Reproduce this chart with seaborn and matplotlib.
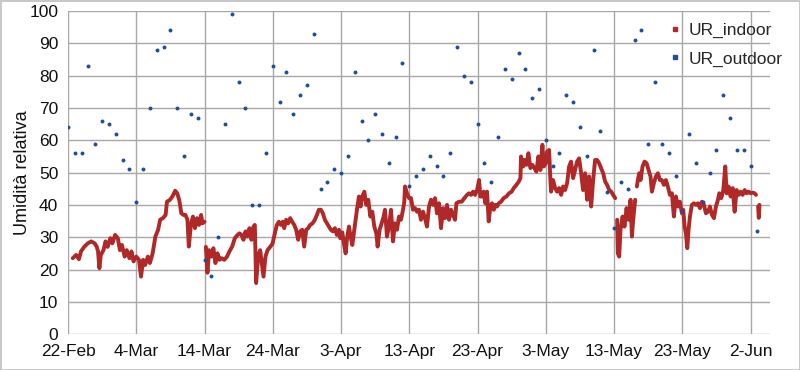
import numpy as np
import pandas as pd
import matplotlib
matplotlib.use('Agg')
import matplotlib.pyplot as plt
import matplotlib.dates as mdates
from matplotlib.lines import Line2D
import seaborn as sns

# outdoor relative humidity, one reading per day from 22-Feb
outdoor_ur = [64, 56, 56, 83, 59, 66, 65, 62, 54, 51, 41, 51, 70, 88, 89, 94,
              70, 55, 68, 67, 23, 18, 30, 65, 99, 78, 70, 40, 40, 56, 83, 72,
              81, 68, 74, 77, 93, 45, 47, 51, 50, 55, 81, 66, 60, 68, 62, 53,
              61, 84, 46, 49, 51, 55, 52, 49, 56, 89, 80, 78, 65, 53, 47, 61,
              82, 79, 87, 82, 73, 76, 60, 52, 56, 74, 72, 64, 55, 88, 63, 44,
              33, 47, 45, 91, 94, 59, 78, 59, 56, 49, 38, 62, 53, 41, 50, 57,
              74, 67, 57, 57, 52, 32]

# indoor trace: days since 22-Feb and relative humidity
indoor_day = [0.7, 1.2, 1.6, 1.9, 2.4, 2.9, 3.4, 3.9, 4.2, 4.4, 4.6, 4.8, 5.2, 5.5,
              5.8, 6.2, 6.5, 6.9, 7.3, 7.6, 7.9, 8.3, 8.6, 9.0, 9.3, 9.6, 10.0,
              10.4, 10.7, 11.0, 11.3, 11.7, 12.0, 12.4, 12.8, 13.2, 13.5, 13.9,
              14.3, 14.5, 14.9, 15.3, 15.7, 16.0, 16.3, 16.6, 16.9, 17.2, 17.5,
              17.7, 18.0, 18.3, 18.6, 18.9, 19.2, 19.5, 19.7, 20.0,
              20.2, 20.43, 20.67, 21.0, 21.3, 21.6, 21.9, 22.2, 22.5, 22.9, 23.3,
              23.65, 24.05, 24.44, 24.83, 25.12, 25.41, 25.71, 26.0, 26.29, 26.59,
              26.88, 27.17, 27.37, 27.56, 27.86, 28.15, 28.64, 28.93, 29.23,
              29.62, 29.96, 30.3, 30.6, 30.89, 31.18, 31.47, 31.67, 31.96, 32.26,
              32.55, 32.84, 33.14, 33.43, 33.72, 34.02, 34.31, 34.6, 34.9, 35.19,
              35.48, 35.82, 36.17, 36.46, 36.75, 37.05, 37.34, 37.63, 37.93,
              38.22, 38.51, 38.81, 39.1, 39.39, 39.69, 39.88, 40.18, 40.42, 40.67,
              40.91, 41.16, 41.4, 41.65, 41.94, 42.13, 42.33, 42.62, 42.87, 43.11,
              43.41, 43.7, 43.99, 44.29, 44.58, 44.87, 45.17, 45.36, 45.65, 45.95,
              46.24, 46.44, 46.73, 47.02, 47.32, 47.61, 47.9, 48.2, 48.49, 48.78,
              49.08, 49.27, 49.37, 49.66, 49.96, 50.25, 50.54, 50.84, 51.13,
              51.42, 51.71, 52.01, 52.3, 52.59, 52.89, 53.18, 53.47, 53.77, 54.06,
              54.35, 54.65, 54.94, 55.23, 55.53, 55.82, 56.11, 56.41, 56.7, 56.9,
              57.29, 57.68, 58.07, 58.46, 58.75, 59.05, 59.34, 59.63, 59.93,
              60.22, 60.41, 60.65, 60.9, 61.14, 61.39, 61.63, 61.88, 62.12, 62.37,
              62.61, 62.85, 63.1, 63.44, 63.83, 64.22, 64.61, 65.0, 65.3, 65.69,
              66.03, 66.28, 66.37, 66.67, 66.86, 67.15, 67.45, 67.74, 68.03,
              68.33, 68.62, 68.91, 69.21, 69.5, 69.7, 69.99, 70.19, 70.48, 70.67,
              70.77, 71.06, 71.36, 71.65, 71.94, 72.24, 72.53, 72.82, 73.12,
              73.41, 73.7, 74.0, 74.29, 74.58, 74.88, 75.17, 75.46, 75.76, 76.05,
              76.34, 76.64, 76.93, 77.22, 77.52, 77.81, 78.1, 78.4, 78.69, 78.98,
              79.28, 79.57, 79.86, 80.16,
              80.45, 80.55, 80.75, 80.94, 81.24, 81.53, 81.82, 82.12, 82.41, 82.61,
              82.8, 83.09,
              83.34, 83.48, 83.68, 83.88, 84.17, 84.46, 84.76, 85.05, 85.34, 85.54,
              85.83, 86.12, 86.42, 86.71, 87.0, 87.3, 87.59, 87.88, 88.18, 88.47,
              88.76, 89.06, 89.35, 89.64, 89.94, 90.13, 90.33, 90.52, 90.72,
              90.91, 91.11, 91.4, 91.7, 91.99, 92.28, 92.58, 92.87, 93.16, 93.46,
              93.75, 94.04, 94.34, 94.63, 94.92, 95.22, 95.41, 95.7, 96.0, 96.29,
              96.49, 96.78, 97.07, 97.37, 97.66, 97.95, 98.25, 98.54, 98.83,
              99.13, 99.42, 99.71, 100.0, 100.3, 100.59, 100.79,
              101.1, 101.2, 101.3]
indoor_ur = [23.5, 24.5, 23.2, 25.6, 27.1, 28.1, 28.7, 28.1, 27.1, 25.6, 20.4, 24.5,
             26.0, 28.7, 27.0, 29.7, 28.1, 30.7, 29.7, 26.0, 27.6, 24.0, 26.0,
             23.5, 25.6, 22.5, 24.0, 23.0, 17.8, 23.0, 21.4, 24.0, 22.0, 25.0,
             30.2, 32.3, 35.4, 35.9, 36.9, 41.0, 41.5, 42.6, 44.4, 43.6, 41.5,
             37.4, 36.9, 36.9, 35.4, 27.1, 33.8, 36.4, 32.8, 35.9, 33.8, 36.9,
             34.3, 34.8,
             27.0, 19.0, 26.0, 24.0, 26.6, 22.0, 25.0, 23.0, 23.5, 23.0, 24.0,
             25.6, 27.1, 29.7, 30.7, 31.2, 30.7, 29.2, 31.8, 30.2, 32.8, 29.2,
             33.3, 33.8, 15.8, 24.0, 26.0, 17.8, 24.0, 26.0, 27.0, 28.0, 31.2,
             33.8, 34.8, 33.8, 34.8, 32.8, 35.4, 34.3, 35.9, 34.8, 33.8, 32.3,
             29.2, 31.8, 32.3, 27.1, 32.3, 32.8, 33.8, 34.3, 35.4, 36.9, 38.5,
             38.5, 37.4, 35.4, 34.3, 33.3, 32.3, 31.8, 32.8, 30.7, 32.3, 29.7,
             31.5, 28.1, 25.0, 30.2, 33.3, 30.2, 27.6, 32.3, 35.4, 38.5, 42.6,
             39.5, 42.6, 44.1, 40.0, 41.6, 36.4, 37.9, 33.3, 31.2, 27.1, 32.3,
             34.3, 36.4, 38.5, 30.2, 33.3, 38.5, 28.7, 34.3, 32.3, 36.4, 35.4,
             38.5, 41.0, 45.7, 43.6, 42.1, 42.1, 38.5, 39.0, 37.9, 38.5, 35.4,
             37.9, 35.9, 33.3, 39.5, 41.6, 40.0, 42.1, 37.4, 40.5, 32.8, 39.0,
             35.9, 40.0, 35.4, 38.5, 36.9, 35.4, 40.5, 41.0, 41.0, 42.1, 43.1,
             43.6, 43.1, 44.1, 43.1, 44.6, 47.7, 42.6, 42.6, 44.1, 40.5, 44.1,
             34.9, 39.5, 40.5, 38.5, 40.0, 39.5, 40.5, 41.0, 42.1, 42.6, 43.6,
             44.1, 45.2, 46.2, 47.2, 48.3, 55.0, 51.9, 53.9, 52.4, 56.0, 51.4,
             52.4, 51.4, 50.3, 55.0, 50.8, 58.6, 51.9, 52.9, 56.5, 57.0, 47.7,
             44.1, 47.7, 45.2, 44.1, 45.2, 43.1, 45.7, 44.6, 46.7, 51.9, 53.4,
             48.3, 50.8, 53.4, 54.4, 49.8, 44.6, 49.8, 41.6, 48.8, 39.5, 47.7,
             53.9, 53.9, 52.9, 51.4, 49.8, 47.2, 46.2, 44.6, 44.1, 43.1, 42.1,
             35.4, 25.0, 24.0, 32.3, 36.4, 33.3, 39.0, 35.4, 41.6, 30.2, 35.4,
             41.6,
             45.7, 47.7, 49.8, 47.7, 51.9, 53.4, 52.9, 50.8, 48.8, 44.1, 46.7,
             48.8, 49.8, 47.7, 47.7, 46.2, 47.7, 45.7, 43.1, 43.6, 36.4, 42.6,
             39.5, 41.0, 37.4, 38.5, 33.3, 31.2, 26.6, 32.3, 36.4, 40.0, 40.5,
             40.0, 40.5, 39.0, 41.0, 40.0, 37.4, 37.9, 39.5, 36.9, 35.9, 39.5,
             41.6, 43.6, 42.1, 44.6, 51.9, 43.6, 45.7, 42.6, 45.2, 37.9, 44.6,
             43.1, 44.1, 43.1, 44.6, 43.6, 44.1, 43.6, 43.8, 43.6, 43.1,
             39.5, 36.0, 40.0]
# logger gaps (days) where the indoor trace breaks
indoor_breaks = [20.1, 80.3, 83.2, 101.0]

start = pd.Timestamp('2015-02-22')
tick_dates = pd.date_range(start, periods=11, freq='10D')

outdoor = pd.DataFrame({
    'date': pd.date_range(start, periods=len(outdoor_ur), freq='D'),
    'ur': outdoor_ur,
})
indoor = pd.DataFrame({
    'date': start + pd.to_timedelta(indoor_day, unit='D'),
    'ur': indoor_ur,
    'seg': np.searchsorted(indoor_breaks, indoor_day),
})

sns.set_style('white')
plt.rcParams['font.family'] = ['Liberation Sans', 'DejaVu Sans']

red = '#B02828'
blue = '#1F4E9A'

fig = plt.figure(figsize=(8, 3.7), dpi=100)
ax = fig.add_axes([0.085, 0.097, 0.878, 0.873])

sns.lineplot(data=indoor, x='date', y='ur', units='seg', estimator=None,
             color=red, linewidth=2.8, ax=ax, legend=False)
sns.scatterplot(data=outdoor, x='date', y='ur', color=blue, s=8,
                linewidth=0, ax=ax, legend=False, zorder=3)

ax.set_xlim(start, start + pd.Timedelta(days=102.9))
ax.set_ylim(0, 100)
ax.set_yticks(range(0, 101, 10))
ax.set_xticks(tick_dates)
ax.xaxis.set_major_formatter(mdates.DateFormatter('%-d-%b'))
ax.grid(True, color='#A8A8A8', linewidth=1)
ax.set_axisbelow(True)
for s in ax.spines.values():
    s.set_visible(False)
ax.tick_params(axis='both', labelsize=12.5, length=4, color='#A8A8A8',
               labelcolor='#111111', pad=3)
ax.set_xlabel('')
ax.set_ylabel('Umidità relativa', fontsize=13, color='#111111')
ax.yaxis.set_label_coords(-0.053, 0.5)

handles = [Line2D([], [], marker='s', linestyle='', markersize=2.3, color=red),
           Line2D([], [], marker='s', linestyle='', markersize=2.3, color=blue)]
fig.legend(handles, ['UR_indoor', 'UR_outdoor'], loc='upper right',
           bbox_to_anchor=(0.998, 0.98), frameon=False, fontsize=12.5,
           handlelength=0.6, handletextpad=0.5, labelspacing=0.75)

fig.patch.set_edgecolor('#C8C8C8')
fig.patch.set_linewidth(2)
fig.savefig('out.png', dpi=100)
